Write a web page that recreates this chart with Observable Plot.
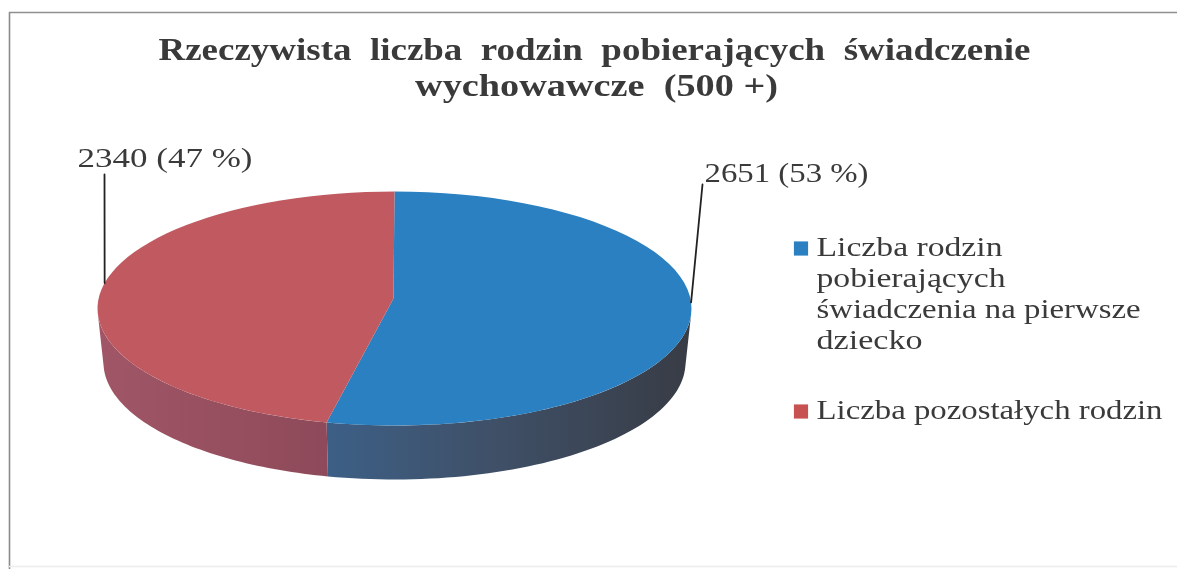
<!DOCTYPE html>
<html><head><meta charset="utf-8">
<script src="https://cdn.jsdelivr.net/npm/d3@7"></script>
<script src="https://cdn.jsdelivr.net/npm/@observablehq/plot@0.6"></script>
<style>html,body{margin:0;padding:0;background:#fff;overflow:hidden}svg{display:block;filter:blur(.5px)}</style>
</head><body><div id="chart"></div>
<script>
const titleLines = ["Rzeczywista  liczba  rodzin  pobierających  świadczenie", "wychowawcze  (500 +)"];
const categoryLines = [["Liczba rodzin", "pobierających", "świadczenia na pierwsze", "dziecko"], ["Liczba pozostałych rodzin"]];
const values = [2651, 2340];
const percents = [53, 47];
const topColors = ["#2a80c0", "#c05a60"];
const swatchColors = ["#2a80c0", "#c85252"];

const W = 1177, H = 569;
const top_ = {cx: 394, cy: 308, rx: 297, ry: 117};
const bot_ = {cx: 394, cy: 362, rx: 291, ry: 117};
const wedgeCentre = {x: 393, y: 298};
const total = d3.sum(values);
const ang = [0, (values[0] / total) * 360 + 2, 360];
const pt = (e, deg) => {const a = deg * Math.PI / 180; return {x: e.cx + e.rx * Math.sin(a), y: e.cy - e.ry * Math.cos(a)};};
const arc = (e, a0, a1) => d3.range(0, 61).map(i => pt(e, a0 + (a1 - a0) * i / 60));

const faces = [0, 1].flatMap(i => [wedgeCentre, ...arc(top_, ang[i], ang[i + 1])].map(p => ({...p, s: i})));
const wall = (a0, a1, s) => [...arc(top_, a0, a1), ...arc(bot_, a1, a0)].map(p => ({...p, s}));
const sides = [...wall(92, ang[1], 0), ...wall(ang[1], 268, 1)];

const labelAnchors = [
  {p: pt(top_, 87), from: {x: 702, y: 184}, text: {x: 704, y: 173}, len: 164, i: 0},
  {p: pt(top_, 282.6), from: {x: 104, y: 174}, text: {x: 77, y: 158}, len: 175, i: 1}
];
const leaders = labelAnchors.flatMap(l => [{...l.from, i: l.i}, {x: l.p.x, y: l.p.y, i: l.i}]);

// one row per text line, with the drawn width of that line in the scanned figure
const titleRows = titleLines.map((t, i) => ({t, x: [594, 596][i], y: [49, 85][i], len: [872, 363][i]}));
const legendRows = [
  ...categoryLines[0].map((t, i) => ({t, y: 247 + i * 31, len: [186, 189, 324, 106][i]})),
  {t: categoryLines[1][0], y: 410, len: 346}
];

const axisOff = {x: {domain: [0, W], range: [0, W], axis: null}, y: {domain: [0, H], range: [0, H], axis: null}};
const serif = "'Liberation Serif', serif";
const ink = "#3a3a3a";

const gradients = () => {
  const defs = document.createElementNS("http://www.w3.org/2000/svg", "defs");
  defs.innerHTML = `
  <linearGradient id="gb" gradientUnits="userSpaceOnUse" x1="327" x2="690" y1="0" y2="0">
    <stop offset="0" stop-color="#3d5f86"/><stop offset="0.45" stop-color="#3f5068"/><stop offset="1" stop-color="#383c45"/></linearGradient>
  <linearGradient id="gr" gradientUnits="userSpaceOnUse" x1="97" x2="327" y1="0" y2="0">
    <stop offset="0" stop-color="#a05666"/><stop offset="1" stop-color="#8e4a5a"/></linearGradient>`;
  return defs;
};

const plot = Plot.plot({
  width: W, height: H, margin: 0, ...axisOff,
  marks: [
    Plot.ruleX([9], {y1: 12, y2: H, stroke: "#8a8a8a", strokeWidth: 1.6}),
    Plot.ruleY([12], {x1: 9, x2: W, stroke: "#8f8f8f", strokeWidth: 1.4}),
    Plot.ruleY([566], {x1: 9, x2: W, stroke: "#ececec", strokeWidth: 1.5}),
    gradients,
    Plot.line(sides.filter(d => d.s === 0), {x: "x", y: "y", fill: "url(#gb)", stroke: "none"}),
    Plot.line(sides.filter(d => d.s === 1), {x: "x", y: "y", fill: "url(#gr)", stroke: "none"}),
    ...[0, 1].map(i => Plot.line(faces.filter(d => d.s === i), {x: "x", y: "y", fill: topColors[i], stroke: "none"})),
    Plot.line(leaders, {x: "x", y: "y", z: "i", stroke: "#222", strokeWidth: 1.8}),
    Plot.text(labelAnchors, {x: d => d.text.x, y: d => d.text.y, text: d => `${values[d.i]} (${percents[d.i]} %)`, textAnchor: "start", fontSize: 28, fontFamily: serif, fill: ink, title: d => d.len}),
    Plot.text(titleRows, {x: "x", y: "y", text: "t", fontSize: 32, fontWeight: "bold", fontFamily: serif, fill: "#3a3a3a", textAnchor: "middle", title: "len"}),
    Plot.dot([248, 411], {x: () => 800.5, y: d => d, symbol: "square", r: 8, fill: (d, i) => swatchColors[i], stroke: "none"}),
    Plot.text(legendRows, {x: () => 816, y: "y", text: "t", textAnchor: "start", fontSize: 28, fontFamily: serif, fill: ink, title: "len"})
  ]
});
document.getElementById("chart").append(plot);
// the scan is horizontally stretched: fit each line of text to its measured width
plot.querySelectorAll("text").forEach(el => {
  const t = el.querySelector("title");
  if (!t) return;
  const len = t.textContent;
  t.remove();
  el.setAttribute("textLength", len);
  el.setAttribute("lengthAdjust", "spacingAndGlyphs");
});
</script></body></html>
